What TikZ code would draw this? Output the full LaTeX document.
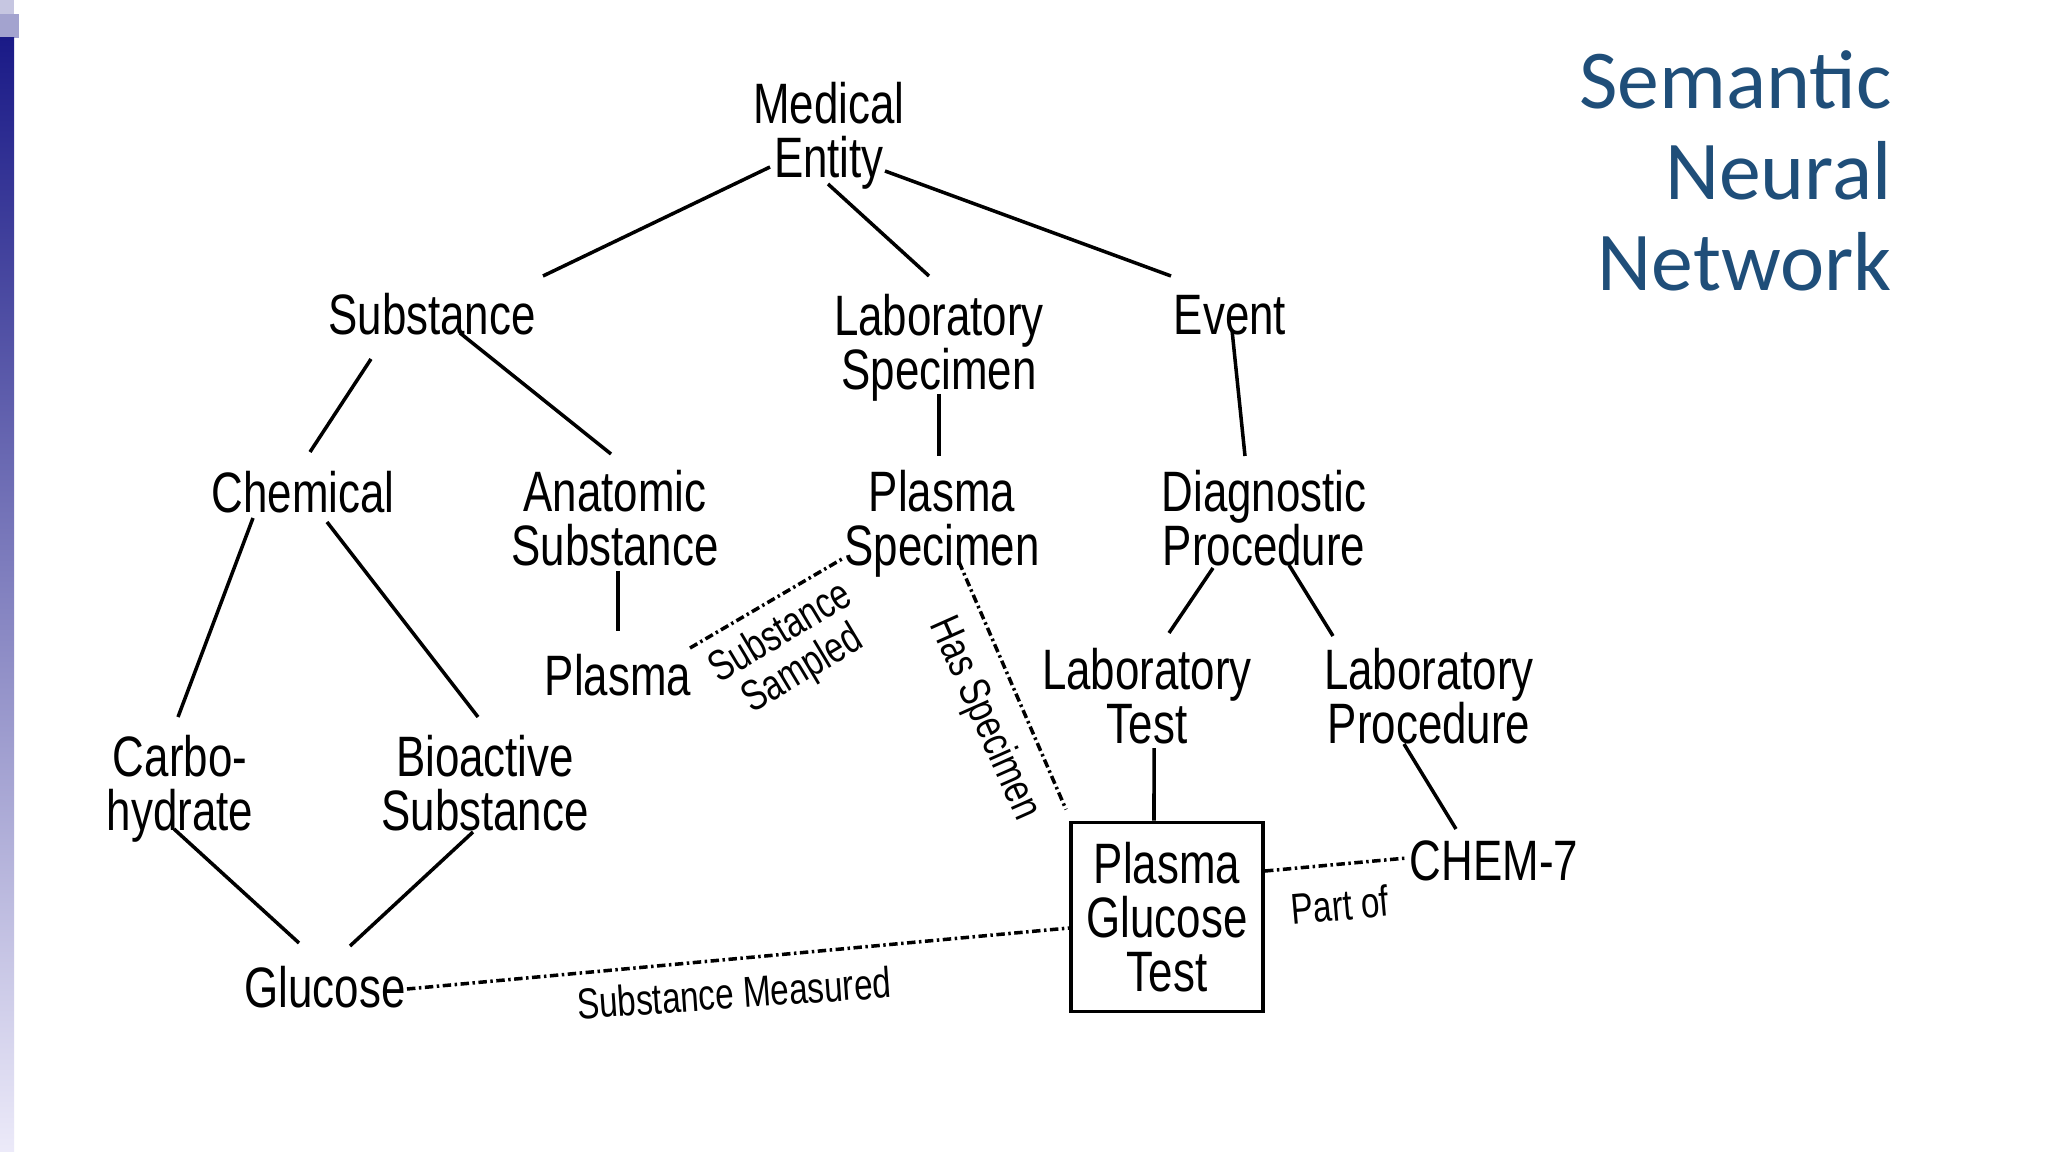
\documentclass[tikz,border=0pt]{standalone}
\usepackage{fontspec}
\setmainfont{Liberation Sans}
\newfontfamily\termfont[FakeStretch=0.77]{Liberation Sans}
\newfontfamily\titlefont{Carlito}
\usetikzlibrary{calc}
\definecolor{SlideBlue}{RGB}{31,78,121}
\definecolor{BarTop}{RGB}{26,26,135}
\definecolor{BarMid}{RGB}{125,125,196}
\definecolor{BarLow}{RGB}{236,234,249}

\begin{document}
\begin{tikzpicture}[x=0.01cm, y=-0.01cm,
    term/.style={inner sep=0pt, align=center,
                 font=\termfont\fontsize{16.2pt}{15.4pt}\selectfont},
    rel/.style={inner sep=0pt, align=center,
                font=\termfont\fontsize{12.3pt}{12.2pt}\selectfont},
    isa/.style={line width=1pt},
    link/.style={line width=1pt,
                 dash pattern=on 2.4pt off 1pt on 0.7pt off 1pt}]
  \useasboundingbox (0,0) rectangle (2048,1152);
  \fill[white] (0,0) rectangle (2048,1152);
  % slide side bar
  \fill[BarTop!25] (0,0) rectangle (14,14);
  \fill[BarTop!40] (0,14) rectangle (19,38);
  \shade[top color=BarTop, middle color=BarMid, bottom color=BarLow]
        (0,38) rectangle (14,1152);

  % title
  \node[SlideBlue, align=right, anchor=east,
        font=\titlefont\fontsize{23.8pt}{25.8pt}\selectfont]
        (title) at (1904,171) {Semantic\\Neural\\Network};

  % concept nodes
  \node[term] (med)     at (829,136)  {Medical\\Entity};
  \node[term] (subst)   at (432,314)  {Substance};
  \node[term] (labspec) at (939,348)  {Laboratory\\Specimen};
  \node[term] (event)   at (1230,315) {Event};
  \node[term] (chem)    at (303,492)  {Chemical};
  \node[term] (anat)    at (615,518)  {Anatomic\\Substance};
  \node[term] (plspec)  at (942,524)  {Plasma\\Specimen};
  \node[term] (diag)    at (1264,518) {Diagnostic\\Procedure};
  \node[term] (plasma)  at (618,675)  {Plasma};
  \node[term] (labtest) at (1147,696) {Laboratory\\Test};
  \node[term] (labproc) at (1429,696) {Laboratory\\Procedure};
  \node[term] (carbo)   at (180,789)  {Carbo-\\hydrate};
  \node[term] (bioact)  at (485,783)  {Bioactive\\Substance};
  \node[term, draw, line width=1.1pt, minimum width=1.92cm,
        minimum height=1.89cm] (pgt) at (1167,917) {Plasma\\Glucose\\Test};
  \node[term] (chemseven) at (1494,861) {CHEM-7};
  \node[term] (glucose) at (325,987)  {Glucose};

  % is-a links
  \draw[isa] ([shift={(-59,31)}]med.center) -- ([shift={(111,-38)}]subst.center);
  \draw[isa] ([shift={(-1,48)}]med.center) -- ([shift={(-10,-72)}]labspec.center);
  \draw[isa] ([shift={(56,35)}]med.center) -- ([shift={(-59,-39)}]event.center);
  \draw[isa] ([shift={(-61,45)}]subst.center) -- ([shift={(7,-40)}]chem.center);
  \draw[isa] ([shift={(28,19)}]subst.center) -- ([shift={(-4,-64)}]anat.center);
  \draw[isa] ([shift={(0,46)}]labspec.center) -- ([shift={(-3,-68)}]plspec.center);
  \draw[isa] ([shift={(2,15)}]event.center) -- ([shift={(-19,-62)}]diag.center);
  \draw[isa] ([shift={(-50,26)}]chem.center) -- ([shift={(-2,-72)}]carbo.center);
  \draw[isa] ([shift={(24,30)}]chem.center) -- ([shift={(-7,-66)}]bioact.center);
  \draw[isa] ([shift={(3,53)}]anat.center) -- ([shift={(0,-44)}]plasma.center);
  \draw[isa] ([shift={(-51,50)}]diag.center) -- ([shift={(22,-63)}]labtest.center);
  \draw[isa] ([shift={(25,47)}]diag.center) -- ([shift={(-96,-60)}]labproc.center);
  \draw[isa] ([shift={(7,52)}]labtest.center) -- ([xshift=-0.13cm]pgt.north);
  \draw[isa] ([shift={(-25,48)}]labproc.center) -- ([shift={(-38,-32)}]chemseven.center);
  \draw[isa] ([shift={(-6,40)}]carbo.center) -- ([shift={(-26,-44)}]glucose.center);
  \draw[isa] ([shift={(-12,49)}]bioact.center) -- ([shift={(25,-41)}]glucose.center);

  % relation links
  \draw[link] ([shift={(72,-27)}]plasma.center) -- ([shift={(-100,35)}]plspec.center);
  \node[rel, rotate=31] (sampled) at (792,652) {Substance\\Sampled};
  \draw[link] ([shift={(17,38)}]plspec.center) -- ([shift={(-3,-11)}]pgt.north west);
  \node[rel, rotate=-66] (hasspec) at (984,719) {Has Specimen};
  \draw[link] ([shift={(82,2)}]glucose.center) -- ([shift={(0,11)}]pgt.west);
  \node[rel, rotate=4] (measured) at (734,993) {Substance Measured};
  \draw[link] ([shift={(0,-46)}]pgt.east) -- ([shift={(-87,-3)}]chemseven.center);
  \node[rel, rotate=5] (partof) at (1340,905) {Part of};
\end{tikzpicture}
\end{document}
